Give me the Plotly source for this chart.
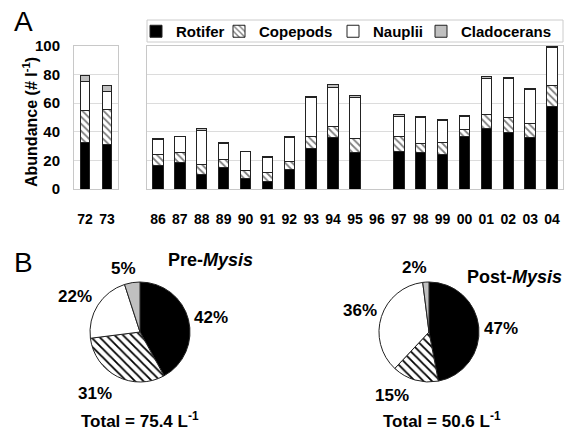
import plotly.graph_objects as go

# ---------------- data ----------------
years_early = ["72", "73"]
rotifer_early = [32.6, 31.4]
copepods_early = [22.5, 24.4]
nauplii_early = [20.1, 12.3]
clad_early = [4.2, 4.0]

years = ["86", "87", "88", "89", "90", "91", "92", "93", "94", "95", "96",
         "97", "98", "99", "00", "01", "02", "03", "04"]
rotifer = [16.5, 18.2, 10.3, 14.7, 7.0, 5.4, 13.8, 28.2, 35.7, 25.6, None,
           26.3, 25.2, 24.2, 36.8, 42.0, 39.6, 35.9, 57.8]
copepods = [7.7, 7.2, 6.7, 5.8, 5.8, 6.0, 5.3, 8.6, 8.1, 9.6, None,
            10.5, 6.3, 8.2, 4.7, 10.0, 10.3, 9.8, 14.7]
nauplii = [10.5, 11.0, 24.0, 11.2, 13.1, 10.3, 16.8, 27.1, 27.5, 29.1, None,
           14.2, 18.6, 15.6, 9.3, 25.6, 27.3, 24.2, 26.3]
cladocerans = [0.7, 0.5, 1.6, 0.9, 0.4, 0.7, 1.1, 0.9, 1.9, 1.0, None,
               1.2, 0.7, 0.7, 0.7, 1.0, 0.7, 0.7, 1.2]

groups = ["Rotifer", "Copepods", "Nauplii", "Cladocerans"]
pre_mysis = [42, 31, 22, 5]
post_mysis = [47, 15, 36, 2]
pre_total = 75.4
post_total = 50.6
y_ticks = [0, 20, 40, 60, 80, 100]

# ---------------- styling ----------------
FONT = "Liberation Sans, Arial, sans-serif"
W, H = 567, 430
LINE = dict(color="#222222", width=1)
styles = {
    "Rotifer": dict(color="black"),
    "Copepods": dict(color="white", pattern=dict(shape="\\", fgcolor="black",
                                                  bgcolor="white", size=5, solidity=0.35)),
    "Nauplii": dict(color="white"),
    "Cladocerans": dict(color="#c0c0c0"),
}
legend_widths = {"Rotifer": 38, "Copepods": 69, "Nauplii": 43, "Cladocerans": 92}

def px_x(p):
    return p / W

def px_y(p):
    return 1 - p / H

fig = go.Figure()

series_early = [rotifer_early, copepods_early, nauplii_early, clad_early]
series_main = [rotifer, copepods, nauplii, cladocerans]

for name, vals in zip(groups, series_early):
    fig.add_trace(go.Bar(x=years_early, y=vals, name=name, xaxis="x", yaxis="y",
                         marker=dict(**styles[name], line=LINE), width=0.45,
                         showlegend=False))
for name, vals in zip(groups, series_main):
    fig.add_trace(go.Bar(x=years, y=vals, name=name, xaxis="x2", yaxis="y2",
                         marker=dict(**styles[name], line=LINE), width=0.48,
                         legendwidth=legend_widths[name], showlegend=True))

pie_colors = ["black", "white", "white", "#c0c0c0"]
pie_patterns = dict(shape=["", "\\", "", ""], fgcolor="black", size=6, solidity=0.3)
for vals, dom in [(pre_mysis, ([90, 190], [282, 382])),
                  (post_mysis, ([379, 479], [282, 382]))]:
    fig.add_trace(go.Pie(labels=groups, values=vals, sort=False, direction="clockwise",
                         rotation=0, textinfo="none", hoverinfo="label+percent",
                         showlegend=False,
                         marker=dict(colors=pie_colors, pattern=pie_patterns,
                                     line=dict(color="#222222", width=1)),
                         domain=dict(x=[px_x(dom[0][0]), px_x(dom[0][1])],
                                     y=[px_y(dom[1][1]), px_y(dom[1][0])])))

ydom = [px_y(189), px_y(46)]
axis_common = dict(showline=True, linecolor="#c8c8c8", mirror=True, zeroline=False)
fig.update_layout(
    width=W, height=H, margin=dict(l=0, r=0, t=0, b=0, autoexpand=False),
    paper_bgcolor="white", plot_bgcolor="white",
    barmode="stack", bargap=0.5,
    font=dict(family=FONT, color="black"),
    xaxis=dict(domain=[px_x(74), px_x(118)], type="category", **axis_common,
               ticks="outside", ticklen=17, tickcolor="rgba(0,0,0,0)",
               tickfont=dict(size=14, family=FONT, weight="bold"), showgrid=False),
    yaxis=dict(domain=ydom, range=[0, 100], tickvals=y_ticks, **axis_common,
               showgrid=True, gridcolor="#dcdcdc", gridwidth=1,
               ticks="outside", ticklen=10, tickcolor="rgba(0,0,0,0)",
               tickfont=dict(size=15, family=FONT, weight="bold")),
    xaxis2=dict(domain=[px_x(147), px_x(563)], type="category", anchor="y2", **axis_common,
                ticks="outside", ticklen=17, tickcolor="rgba(0,0,0,0)",
                tickfont=dict(size=14, family=FONT, weight="bold"), showgrid=False),
    yaxis2=dict(domain=ydom, range=[0, 100], tickvals=y_ticks, anchor="x2", **axis_common,
                showgrid=True, gridcolor="#dcdcdc", gridwidth=1, showticklabels=False),
    legend=dict(orientation="h", x=px_x(136), xanchor="left", y=px_y(15), yanchor="top",
                borderwidth=0, bgcolor="rgba(0,0,0,0)",
                font=dict(size=15, family=FONT, weight="bold"),
                itemclick=False, itemdoubleclick=False, traceorder="normal"),
    shapes=[dict(type="rect", xref="paper", yref="paper",
                 x0=px_x(147), x1=px_x(563), y0=px_y(42), y1=px_y(20),
                 line=dict(color="#cccccc", width=1), fillcolor="rgba(0,0,0,0)",
                 layer="below")],
)

ann = []
def text(x, y, s, size=17, bold=True, angle=0):
    ann.append(dict(x=px_x(x), y=px_y(y), xref="paper", yref="paper", text=s,
                    showarrow=False, textangle=angle, xanchor="center", yanchor="middle",
                    font=dict(size=size, family=FONT, color="black",
                              weight="bold" if bold else "normal")))

text(23, 22, "A", size=28, bold=False)
text(23, 262, "B", size=28, bold=False)
text(30, 122, "Abundance (# l<sup>-1</sup>)", size=16, angle=-90)

pre_pos = [(211, 317), (95, 393), (75, 296), (123, 268)]
post_pos = [(501, 328), (392, 395), (360, 310), (414, 267)]
for vals, pos in [(pre_mysis, pre_pos), (post_mysis, post_pos)]:
    for v, (x, y) in zip(vals, pos):
        text(x, y, f"{v}%")

text(210, 260, "Pre-<i>Mysis</i>", size=18)
text(514, 277, "Post-<i>Mysis</i>", size=18)
text(140, 420, f"Total = {pre_total} L<sup>-1</sup>", size=17)
text(442, 420, f"Total = {post_total} L<sup>-1</sup>", size=17)

fig.update_layout(annotations=ann)
fig.write_html("out.html", config={"displayModeBar": False},
               post_script="document.body.style.margin='0';document.body.style.overflow='hidden';")
